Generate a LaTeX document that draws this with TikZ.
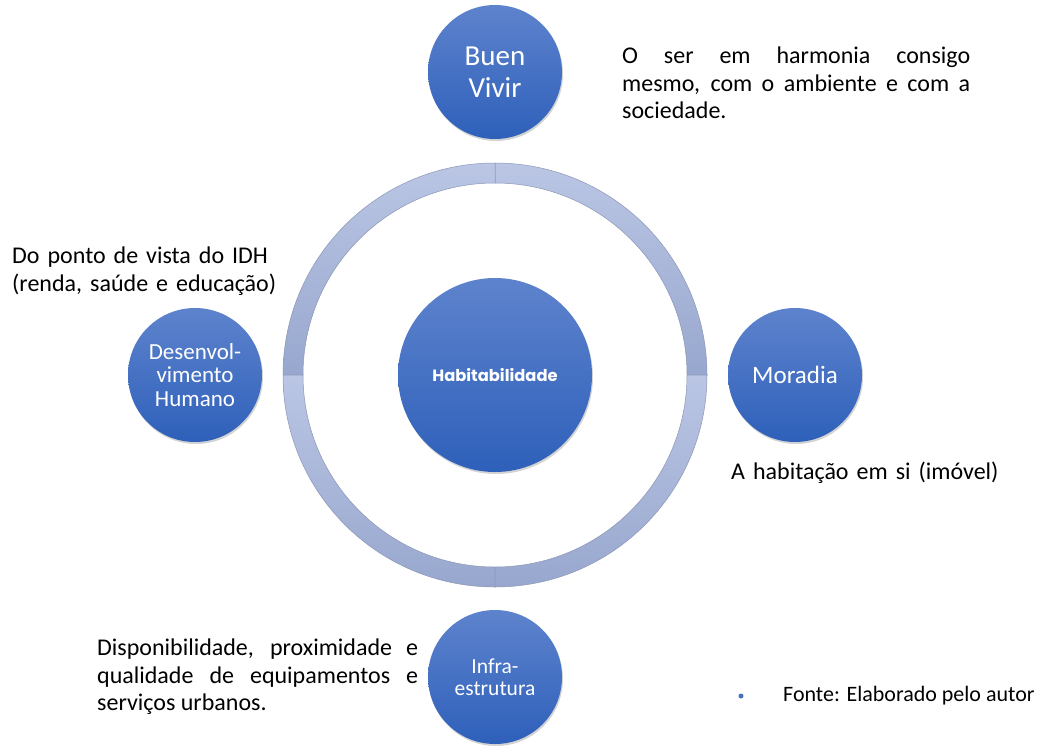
\documentclass[tikz,border=0pt]{standalone}
\usepackage{fontspec}
\setmainfont{Carlito}
\newfontfamily\habfont{Poppins}
\usetikzlibrary{shadows}
\hyphenpenalty=10000
\tolerance=10000

\definecolor{circtop}{RGB}{94,131,205}
\definecolor{circbot}{RGB}{46,96,186}
\definecolor{ringtop}{RGB}{186,198,228}
\definecolor{ringbot}{RGB}{152,167,206}
\definecolor{ringedge}{RGB}{140,150,182}
\definecolor{bullblue}{RGB}{68,114,196}

\begin{document}
\begin{tikzpicture}[x=1pt,y=-1pt,node distance=300pt,
		main node/.style = {circle, top color=circtop, bottom color=circbot, draw=none, text=white, align=center, inner sep=0pt,
			drop shadow={shadow xshift=1pt, shadow yshift=-2pt, opacity=0.35}},
		sat node/.style = {main node, minimum size=134pt},
		note/.style = {anchor=north west, inner sep=0pt, text width=#1, align=justify, font=\fontsize{24}{27.5}\selectfont}]
	
	\useasboundingbox (0,0) rectangle (1040,749);
	
	\coordinate (c) at (495,375);
	% ring in four quarters
	\foreach \a in {0,90,180,270}
	\shade[top color=ringtop, bottom color=ringbot, draw=ringedge, line width=0.5pt]
	([shift={(\a:192pt)}]c) arc[start angle=\a, end angle=\a+90, radius=192pt]
	-- ([shift={(\a+90:212pt)}]c) arc[start angle=\a+90, end angle=\a, radius=212pt] -- cycle;
	
	\node[main node, minimum size=194pt] (hab) at (c) {\habfont\bfseries\fontsize{16.3}{19}\selectfont Habitabilidade};
	\node[sat node, font=\fontsize{29}{32}\selectfont] [above of = hab, node distance=303pt] (buen) {Buen\\Vivir};
	\node[sat node, font=\fontsize{25}{27}\selectfont] [right of = hab] (mor) {Moradia};
	\node[sat node, font=\fontsize{23}{23.5}\selectfont] [left of = hab] (desen) {Desenvol-\\vimento\\Humano};
	\node[sat node, font=\fontsize{21.5}{21.5}\selectfont] [below of = hab, node distance=302pt] (infra) {Infra-\\estrutura};
	
	\node[note=348pt] (tbuen) at (622,47) {O ser em harmonia consigo\linebreak mesmo, com o ambiente e com a\linebreak sociedade.};
	\node[note=300pt, align=left] (tdesen) at (12,247) {Do ponto de vista do IDH\\(renda, saúde e educação)};
	\node[note=300pt, align=left] (tmor) at (731,462) {A habitação em si (imóvel)};
	\node[note=321pt] (tinfra) at (97,639) {Disponibilidade, proximidade e qualidade de equipamentos e serviços urbanos.};
	
	\node[circle, fill=bullblue, inner sep=0pt, minimum size=5pt] (bul) at (741,696) {};
	\node[anchor=west, inner sep=0pt, font=\fontsize{22}{24}\selectfont] (fonte) at (783,696) {Fonte: Elaborado pelo autor};
\end{tikzpicture}
\end{document}
